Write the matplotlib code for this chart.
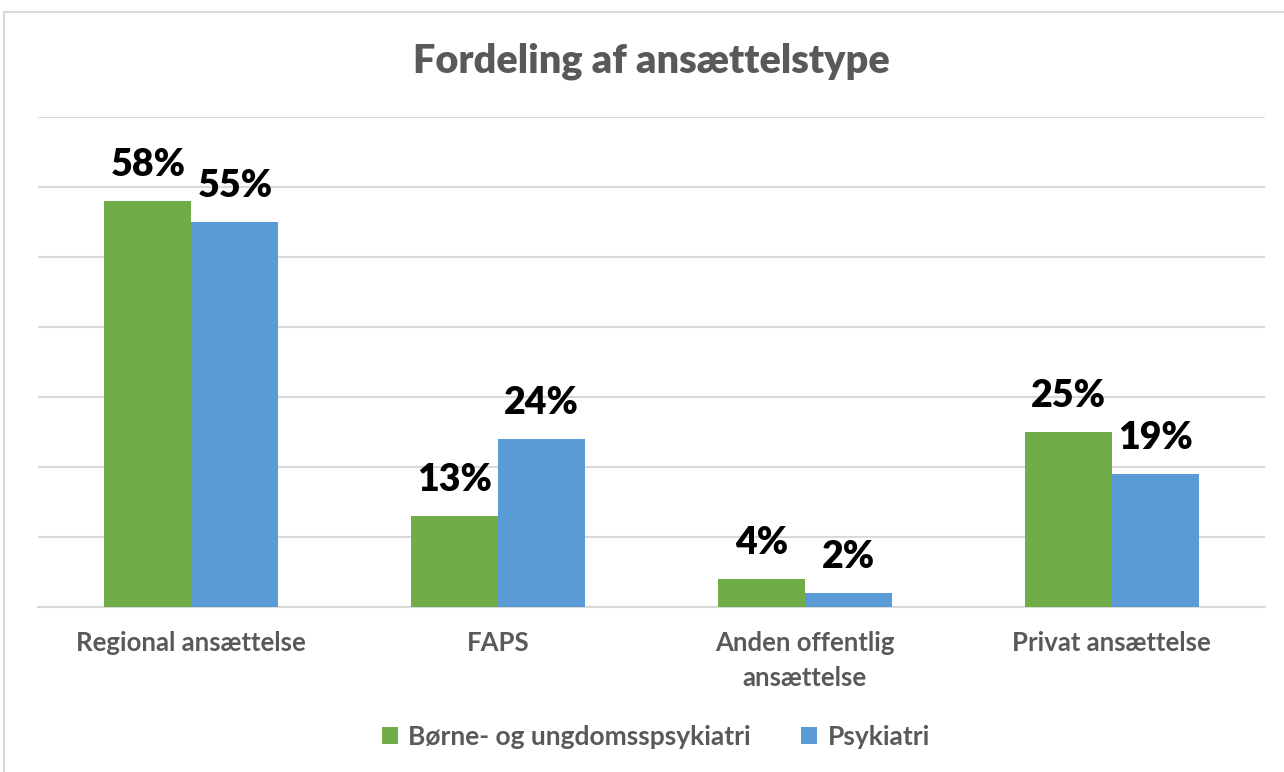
import matplotlib
matplotlib.use("Agg")
import matplotlib.pyplot as plt
import numpy as np
from matplotlib.patches import Rectangle

plt.rcParams['font.family'] = ['Lato', 'DejaVu Sans']

categories = ['Regional ansættelse', 'FAPS', 'Anden offentlig\nansættelse', 'Privat ansættelse']
series_names = ['Børne- og ungdomsspsykiatri', 'Psykiatri']
boerne = [0.58, 0.13, 0.04, 0.25]
psyk = [0.55, 0.24, 0.02, 0.19]
labels_boerne = ['58%', '13%', '4%', '25%']
labels_psyk = ['55%', '24%', '2%', '19%']

GREEN = '#70ad47'
BLUE = '#5b9bd5'
GRAY = '#595959'

W, H = 1284, 772
fig = plt.figure(figsize=(W / 100, H / 100), dpi=100)
fig.patches.append(Rectangle((4 / W, -0.1), 1.2, 1 - 12 / H + 0.1, transform=fig.transFigure,
                             fill=False, edgecolor='#d9d9d9', linewidth=1.5))

ax = fig.add_axes([38 / W, 1 - 607 / H, (1265 - 38) / W, (607 - 117) / H])
x = np.arange(len(categories))
bw = 0.284
b1 = ax.bar(x - bw / 2, boerne, bw, color=GREEN, label=series_names[0], zorder=3)
b2 = ax.bar(x + bw / 2, psyk, bw, color=BLUE, label=series_names[1], zorder=3)

for bars, labs in ((b1, labels_boerne), (b2, labels_psyk)):
    for rect, lab in zip(bars, labs):
        ax.annotate(lab, (rect.get_x() + rect.get_width() / 2, rect.get_height()),
                    xytext=(0, 14), textcoords='offset points', ha='center', va='bottom',
                    fontsize=27, fontweight='heavy', color='black')

ax.set_xlim(-0.5, 3.5)
ax.set_ylim(0, 0.70)
ax.set_yticks(np.arange(0, 0.71, 0.1))
ax.yaxis.grid(True, color='#d9d9d9', linewidth=1.5, zorder=0)
ax.tick_params(axis='y', left=False, labelleft=False)
ax.tick_params(axis='x', length=0, pad=17)
ax.set_xticks(x)
ax.set_xticklabels(categories, fontsize=18.5, fontweight='bold', color=GRAY, linespacing=1.55)
for s in ['top', 'right', 'left']:
    ax.spines[s].set_visible(False)
ax.spines['bottom'].set_color('#d9d9d9')
ax.spines['bottom'].set_linewidth(1.5)

fig.text(651 / W, 1 - 61 / H, 'Fordeling af ansættelstype', ha='center', va='center',
         fontsize=28.5, fontweight='heavy', color=GRAY)

leg = fig.legend(loc='center', bbox_to_anchor=(656 / W, 1 - 737 / H), ncol=2, frameon=False,
                 fontsize=19, handlelength=0.6, handleheight=0.6, handletextpad=0.4,
                 columnspacing=1.9)
for t in leg.get_texts():
    t.set_color(GRAY)
    t.set_fontweight('bold')

fig.savefig('out.png', dpi=100)
